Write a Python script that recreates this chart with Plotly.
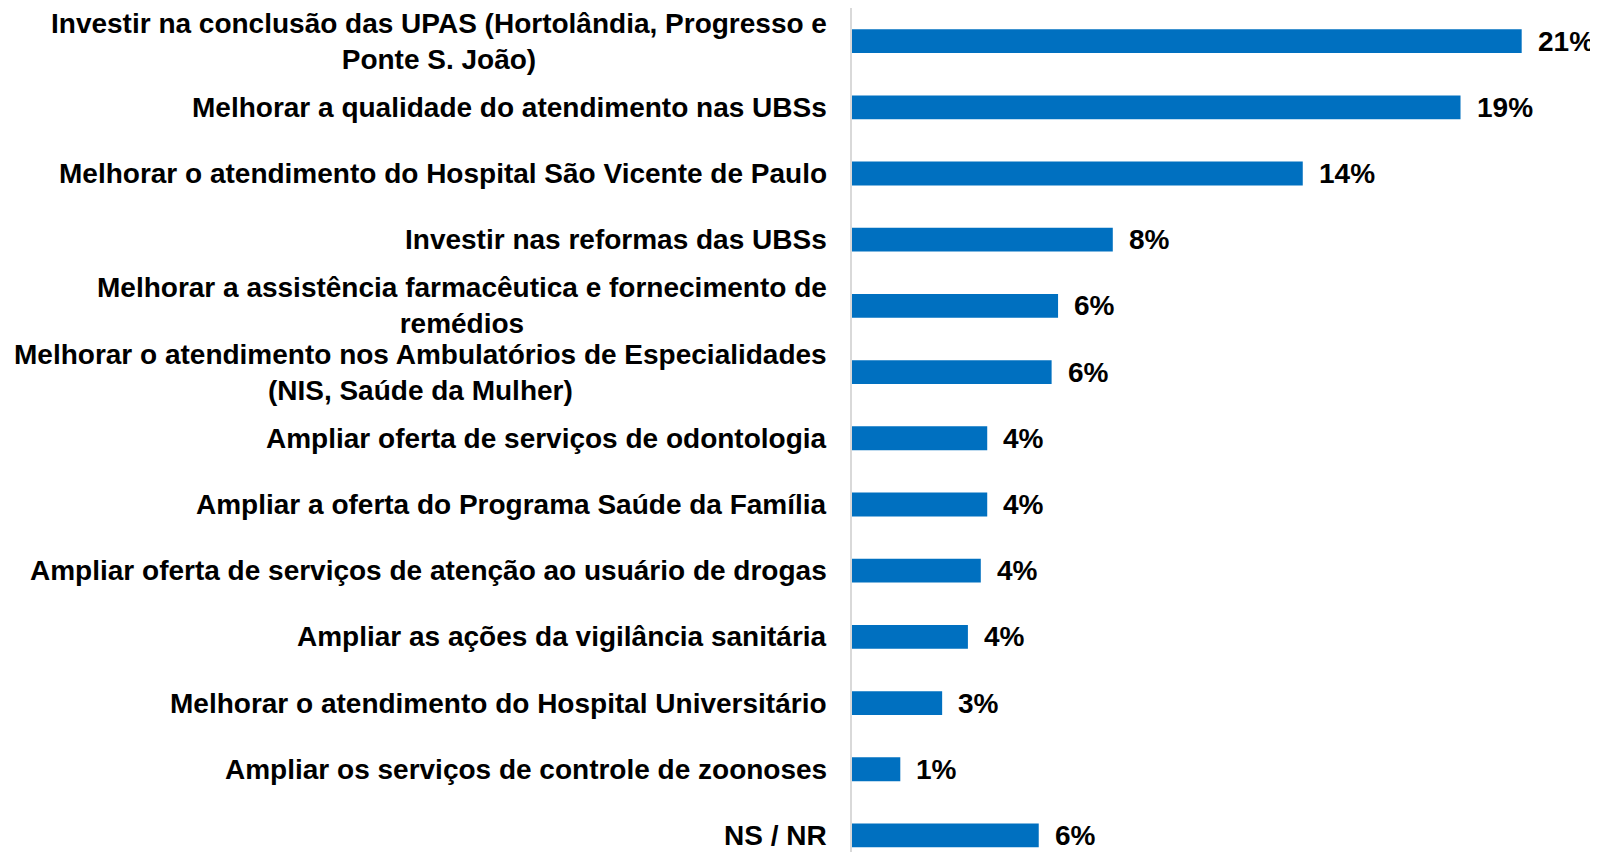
import plotly.graph_objects as go

categories = [
    "Investir na conclusão das UPAS (Hortolândia, Progresso e<br>Ponte S. João)",
    "Melhorar a qualidade do atendimento nas UBSs",
    "Melhorar o atendimento do Hospital São Vicente de Paulo",
    "Investir nas reformas das UBSs",
    "Melhorar a assistência farmacêutica e fornecimento de<br>remédios",
    "Melhorar o atendimento nos Ambulatórios de Especialidades<br>(NIS, Saúde da Mulher)",
    "Ampliar oferta de serviços de odontologia",
    "Ampliar a oferta do Programa Saúde da Família",
    "Ampliar oferta de serviços de atenção ao usuário de drogas",
    "Ampliar as ações da vigilância sanitária",
    "Melhorar o atendimento do Hospital Universitário",
    "Ampliar os serviços de controle de zoonoses",
    "NS / NR",
]
values = [20.8, 18.9, 14.0, 8.1, 6.4, 6.2, 4.2, 4.2, 4.0, 3.6, 2.8, 1.5, 5.8]
value_labels = ["21%", "19%", "14%", "8%", "6%", "6%", "4%", "4%", "4%", "4%", "3%", "1%", "6%"]

FONT = "Liberation Sans, Arial, sans-serif"
BLUE = "#0070C0"

fig = go.Figure(
    go.Bar(
        x=values,
        y=categories,
        orientation="h",
        marker=dict(color=BLUE, line=dict(width=0)),
        hoverinfo="skip",
    )
)

annotations = []
for cat in categories:
    annotations.append(dict(
        x=0, xref="paper", y=cat, yref="y",
        text=cat, showarrow=False, xanchor="right", yanchor="middle",
        align="center", xshift=-23,
        font=dict(family=FONT, size=28, color="black", weight="bold"),
    ))
for cat, v, lab in zip(categories, values, value_labels):
    annotations.append(dict(
        x=v, xref="x", y=cat, yref="y",
        text=lab, showarrow=False, xanchor="left", yanchor="middle",
        xshift=14,
        font=dict(family=FONT, size=28, color="black", weight="bold"),
    ))

fig.update_layout(
    width=1590, height=844,
    margin=dict(l=844, r=0, t=0, b=0),
    paper_bgcolor="white", plot_bgcolor="white",
    bargap=0.64,
    showlegend=False,
    annotations=annotations,
    xaxis=dict(range=[0, 23.17], showgrid=False, zeroline=False,
               showticklabels=False, showline=False, ticks=""),
    yaxis=dict(type="category", categoryorder="array", categoryarray=categories,
               range=[12.25, -0.5], showgrid=False, zeroline=False,
               showticklabels=False, showline=True, linecolor="#d9d9d9",
               linewidth=1.5, ticks=""),
)

fig.write_html("out.html")
